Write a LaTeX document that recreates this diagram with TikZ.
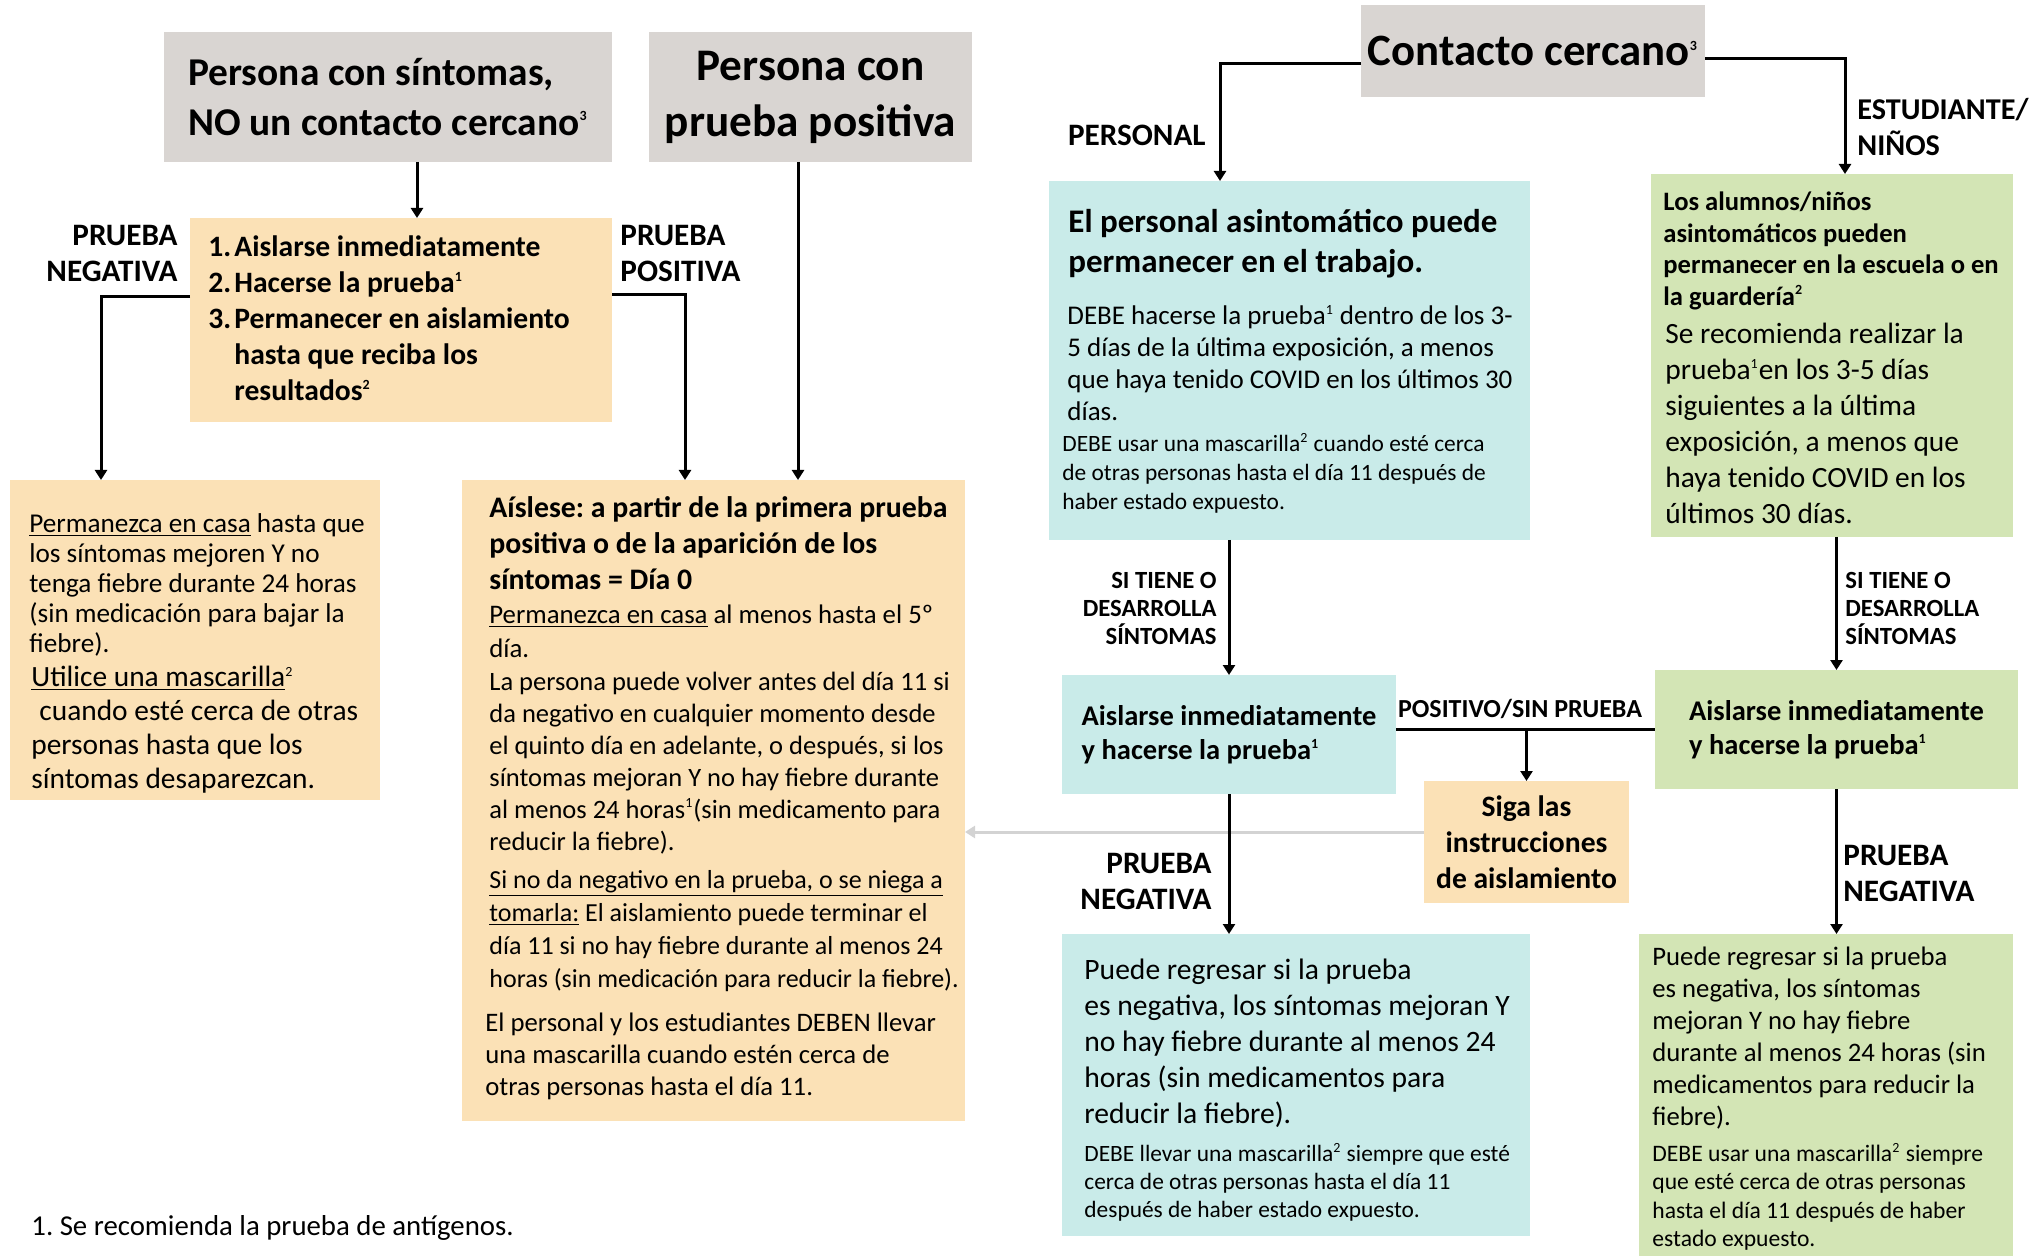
\documentclass[tikz,border=0pt]{standalone}
\usepackage{fontspec}
\setmainfont{Carlito}
\usetikzlibrary{arrows.meta}

\definecolor{gris}{HTML}{D9D5D2}
\definecolor{naranja}{HTML}{FBE1B6}
\definecolor{celeste}{HTML}{C9EBE9}
\definecolor{verdec}{HTML}{D3E5B5}
\definecolor{grisflecha}{HTML}{D3D3D3}

\begin{document}
\frenchspacing
\begin{tikzpicture}[x=0.5pt, y=-0.5pt,
  caja/.style={anchor=north west, inner sep=0pt, outer sep=0pt},
  texto/.style={anchor=west, inner sep=0pt, align=left},
  flecha/.style={line width=1.5pt, -{Triangle[length=5pt,width=6pt]}},
  linea/.style={line width=1.5pt},
  etiqueta/.style={inner sep=0pt, font=\fontsize{15.6pt}{18pt}\selectfont\bfseries}]
  \def\nota#1{\textsuperscript{\fontsize{7pt}{7pt}\selectfont#1}}
  \useasboundingbox (0,0) rectangle (2040,1256);

  % cajas
  \node[caja, fill=gris, minimum width=224pt, minimum height=65pt, align=left, font=\fontsize{19.7pt}{25pt}\selectfont\bfseries] (sint) at (164,32) {Persona con síntomas,\\NO un contacto cercano\nota{3}};
  \node[caja, fill=gris, minimum width=161.5pt, minimum height=65pt, align=center, font=\fontsize{22.6pt}{28pt}\selectfont\bfseries] (pos) at (649,32) {Persona con\\prueba positiva};
  \node[caja, fill=gris, minimum width=172pt, minimum height=46pt, font=\fontsize{22.4pt}{25pt}\selectfont\bfseries] (contacto) at (1361,5) {Contacto cercano\nota{3}};
  \node[caja, fill=naranja, minimum width=211pt, minimum height=102pt] (lista) at (190,218) {};
  \node[caja, fill=naranja, minimum width=185pt, minimum height=160pt] (izq) at (10,480) {};
  \node[caja, fill=naranja, minimum width=251.5pt, minimum height=320.5pt] (aisl) at (462,480) {};
  \node[caja, fill=celeste, minimum width=240.5pt, minimum height=179.5pt] (azul1) at (1049,181) {};
  \node[caja, fill=verdec, minimum width=181pt, minimum height=181.5pt] (verde1) at (1651,174) {};
  \node[caja, fill=celeste, minimum width=167pt, minimum height=59.5pt, align=left, font=\fontsize{14.25pt}{17pt}\selectfont\bfseries] (azul2) at (1062,675) {Aislarse inmediatamente\\y hacerse la prueba\nota{1}};
  \node[caja, fill=verdec, minimum width=181.5pt, minimum height=59.5pt, align=left, font=\fontsize{14.25pt}{17pt}\selectfont\bfseries] (verde2) at (1655,670) {Aislarse inmediatamente\\y hacerse la prueba\nota{1}};
  \node[caja, fill=naranja, minimum width=102.5pt, minimum height=61pt, align=center, font=\fontsize{14.8pt}{18pt}\selectfont\bfseries] (siga) at (1424,781) {Siga las\\instrucciones\\de aislamiento};
  \node[caja, fill=celeste, minimum width=234pt, minimum height=151pt] (azul3) at (1062,934) {};
  \node[caja, fill=verdec, minimum width=187pt, minimum height=161pt] (verde3) at (1639,934) {};

  % textos
  \node[texto, font=\fontsize{14.8pt}{18pt}\selectfont\bfseries] (t-lista) at (208,318) {\makebox[13pt][l]{1.}Aislarse inmediatamente\\\makebox[13pt][l]{2.}Hacerse la prueba\nota{1}\\\makebox[13pt][l]{3.}Permanecer en aislamiento\\\hspace*{13pt}hasta que reciba los\\\hspace*{13pt}resultados\nota{2}};
  \node[texto, font=\fontsize{13.6pt}{15pt}\selectfont] (t-izq1) at (29,585) {\underline{Permanezca en casa} hasta que\\los síntomas mejoren Y no\\tenga fiebre durante 24 horas\\(sin medicación para bajar la\\fiebre).};
  \node[texto, font=\fontsize{14.7pt}{17pt}\selectfont] (t-izq2) at (31,730) {\underline{Utilice una mascarilla}\nota{2}\\\hspace*{4pt}cuando esté cerca de otras\\personas hasta que los\\síntomas desaparezcan.};
  \node[texto, font=\fontsize{14.9pt}{18pt}\selectfont\bfseries] (t-aisl1) at (489,543) {Aíslese: a partir de la primera prueba\\positiva o de la aparición de los\\síntomas = Día 0};
  \node[texto, font=\fontsize{13.4pt}{17pt}\selectfont] (t-aisl2) at (489,631) {\underline{Permanezca en casa} al menos hasta el 5º\\día.};
  \node[texto, font=\fontsize{13.25pt}{16pt}\selectfont] (t-aisl3) at (489,763) {La persona puede volver antes del día 11 si\\da negativo en cualquier momento desde\\el quinto día en adelante, o después, si los\\síntomas mejoran Y no hay fiebre durante\\al menos 24 horas\nota{1}(sin medicamento para\\reducir la fiebre).};
  \node[texto, font=\fontsize{13pt}{16.5pt}\selectfont] (t-aisl4) at (489,931) {\underline{Si no da negativo en la prueba, o se niega a}\\\underline{tomarla:} El aislamiento puede terminar el\\día 11 si no hay fiebre durante al menos 24\\horas (sin medicación para reducir la fiebre).};
  \node[texto, font=\fontsize{13.35pt}{16pt}\selectfont] (t-aisl5) at (485,1056) {El personal y los estudiantes DEBEN llevar\\una mascarilla cuando estén cerca de\\otras personas hasta el día 11.};
  \node[texto, font=\fontsize{16.5pt}{20pt}\selectfont\bfseries] (t-azul1a) at (1068,244) {El personal asintomático puede\\permanecer en el trabajo.};
  \node[texto, font=\fontsize{13.5pt}{16pt}\selectfont] (t-azul1b) at (1067,363) {DEBE hacerse la prueba\nota{1} dentro de los 3-\\5 días de la última exposición, a menos\\que haya tenido COVID en los últimos 30\\días.};
  \node[texto, font=\fontsize{11.7pt}{14.5pt}\selectfont] (t-azul1c) at (1062,473) {DEBE usar una mascarilla\nota{2} cuando esté cerca\\de otras personas hasta el día 11 después de\\haber estado expuesto.};
  \node[texto, font=\fontsize{13.3pt}{15.75pt}\selectfont\bfseries] (t-verde1a) at (1663,251) {Los alumnos/niños\\asintomáticos pueden\\permanecer en la escuela o en\\la guardería\nota{2}};
  \node[texto, font=\fontsize{14.7pt}{18pt}\selectfont] (t-verde1b) at (1665,423) {Se recomienda realizar la\\prueba\nota{1}en los 3-5 días\\siguientes a la última\\exposición, a menos que\\haya tenido COVID en los\\últimos 30 días.};
  \node[texto, font=\fontsize{14.8pt}{18pt}\selectfont] (t-azul3a) at (1084,1043) {Puede regresar si la prueba\\es negativa, los síntomas mejoran Y\\no hay fiebre durante al menos 24\\horas (sin medicamentos para\\reducir la fiebre).};
  \node[texto, font=\fontsize{11.7pt}{14pt}\selectfont] (t-azul3b) at (1084,1182) {DEBE llevar una mascarilla\nota{2} siempre que esté\\cerca de otras personas hasta el día 11\\después de haber estado expuesto.};
  \node[texto, font=\fontsize{13.35pt}{16pt}\selectfont] (t-verde3a) at (1652,1038) {Puede regresar si la prueba\\es negativa, los síntomas\\mejoran Y no hay fiebre\\durante al menos 24 horas (sin\\medicamentos para reducir la\\fiebre).};
  \node[texto, font=\fontsize{11.8pt}{14.25pt}\selectfont] (t-verde3b) at (1652,1197) {DEBE usar una mascarilla\nota{2} siempre\\que esté cerca de otras personas\\hasta el día 11 después de haber\\estado expuesto.};
  \node[texto, font=\fontsize{14.4pt}{16pt}\selectfont] (nota1) at (31,1228) {1. Se recomienda la prueba de antígenos.};

  % etiquetas
  \node[etiqueta, anchor=east, align=right] (e-neg1) at (178,253) {PRUEBA\\NEGATIVA};
  \node[etiqueta, anchor=west, align=left] (e-pos) at (620,253) {PRUEBA\\POSITIVA};
  \node[etiqueta, anchor=east] (e-personal) at (1206,135) {PERSONAL};
  \node[etiqueta, anchor=west, align=left, font=\fontsize{15.1pt}{18pt}\selectfont\bfseries] (e-estud) at (1857,127) {ESTUDIANTE/\\NIÑOS};
  \node[etiqueta, anchor=east, align=right, font=\fontsize{12.35pt}{14pt}\selectfont\bfseries] (e-sint1) at (1217,608) {SI TIENE O\\DESARROLLA\\SÍNTOMAS};
  \node[etiqueta, anchor=west, align=left, font=\fontsize{12.35pt}{14pt}\selectfont\bfseries] (e-sint2) at (1845,608) {SI TIENE O\\DESARROLLA\\SÍNTOMAS};
  \node[etiqueta, font=\fontsize{13pt}{14pt}\selectfont\bfseries] (e-posit) at (1520,709) {POSITIVO/SIN PRUEBA};
  \node[etiqueta, anchor=east, align=right] (e-neg2) at (1212,881) {PRUEBA\\NEGATIVA};
  \node[etiqueta, anchor=west, align=left] (e-neg3) at (1843,873) {PRUEBA\\NEGATIVA};

  % conectores
  \draw[flecha] ([xshift=14.5pt]sint.south) -- ([xshift=14.5pt]sint.south |- lista.north);
  \draw[flecha] ([yshift=11.5pt]lista.west) -| ([xshift=-47pt]izq.north);
  \draw[flecha] ([yshift=12.5pt]lista.east) -| ([xshift=-14.25pt]aisl.north);
  \draw[flecha] ([xshift=-6.25pt]pos.south) -- ([xshift=-6.25pt]pos.south |- aisl.north);
  \draw[flecha] ([yshift=-6.5pt]contacto.west) -| ([xshift=-34.75pt]azul1.north);
  \draw[flecha] ([yshift=-4pt]contacto.east) -| ([xshift=6.5pt]verde1.north);
  \draw[flecha] (azul1.south -| azul2.north) -- (azul2.north);
  \draw[flecha] (verde1.south -| verde2.north) -- (verde2.north);
  \draw[linea] (azul2.east |- verde2.west) -- (verde2.west);
  \draw[flecha] (siga.north |- verde2.west) -- (siga.north);
  \draw[line width=1.5pt, grisflecha, -{Triangle[length=5pt,width=6pt]}] ([yshift=5pt]siga.west) -- ([yshift=5pt]siga.west -| aisl.east);
  \draw[flecha] (azul2.south) -- (azul2.south |- azul3.north);
  \draw[flecha] (verde2.south) -- (verde2.south |- verde3.north);
\end{tikzpicture}
\end{document}
